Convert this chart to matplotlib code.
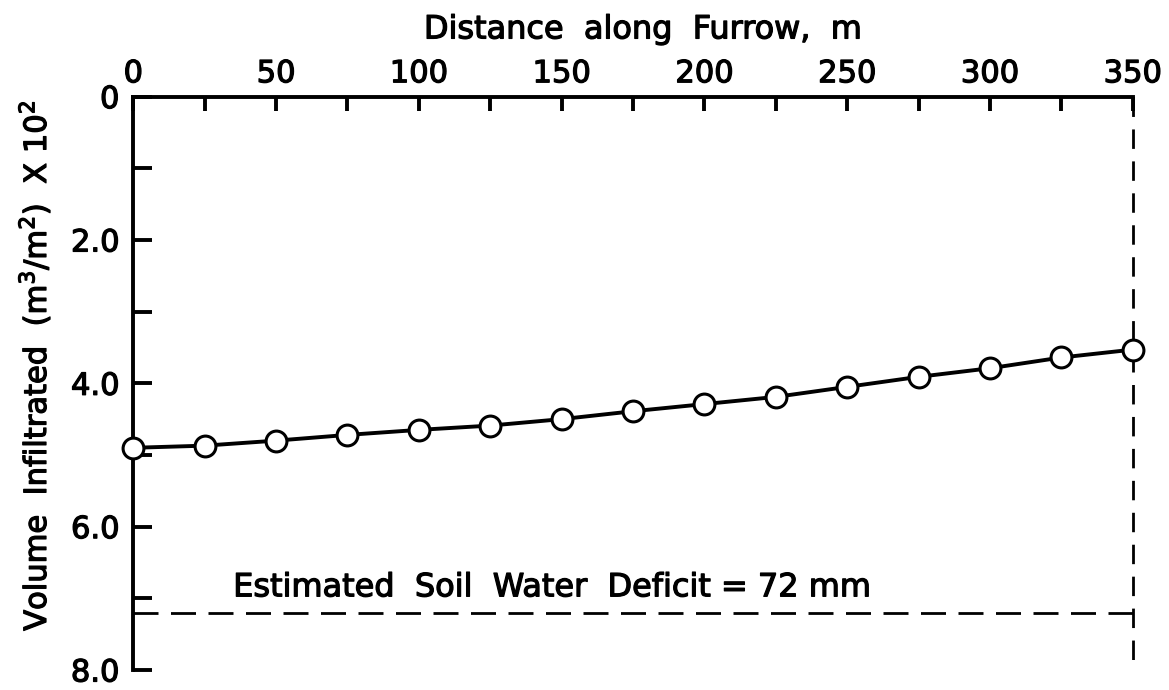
import matplotlib
matplotlib.use("Agg")
import matplotlib.pyplot as plt
import matplotlib.patheffects as pe
from matplotlib.ticker import MultipleLocator

plt.rcParams["font.family"] = ["DejaVu Sans"]

# volume infiltrated along the furrow (x10^-2 m3/m2)
distance = [0, 25, 50, 75, 100, 125, 150, 175, 200, 225, 250, 275, 300, 325, 350]
volume = [4.90, 4.87, 4.80, 4.72, 4.65, 4.59, 4.50, 4.39, 4.29, 4.19, 4.05, 3.91, 3.79, 3.64, 3.53]
deficit = 7.2
furrow_end = 350

x_labels = [0, 50, 100, 150, 200, 250, 300, 350]
y_ticks = [0, 2.0, 4.0, 6.0, 8.0]
y_labels = ["0", "2.0", "4.0", "6.0", "8.0"]

# slightly heavier lettering
heavy = [pe.withStroke(linewidth=0.9, foreground="black")]

fig = plt.figure(figsize=(11.69, 6.90), dpi=100)
ax = fig.add_axes([0.114, 0.029, 0.855, 0.831])

ax.plot(distance, volume, color="black", lw=2.8, marker="o", ms=15,
        mfc="white", mec="black", mew=2.2, zorder=3, clip_on=False)

ax.plot([0, furrow_end], [deficit, deficit], color="black", lw=2.0,
        dashes=(9, 4.5), clip_on=False)
ax.plot([furrow_end, furrow_end], [0, 8.0], color="black", lw=2.0,
        dashes=(7, 4.5), clip_on=False, zorder=1)
ax.text(35, deficit - 0.13, "Estimated  Soil  Water  Deficit = 72 mm",
        fontsize=23, ha="left", va="bottom", path_effects=heavy)

ax.set_xlim(0, 350)
ax.set_ylim(8.0, 0)
ax.xaxis.set_ticks_position("top")
ax.xaxis.set_label_position("top")
ax.set_xticks(x_labels)
ax.xaxis.set_minor_locator(MultipleLocator(25))
ax.set_yticks(y_ticks)
ax.set_yticklabels(y_labels)
ax.yaxis.set_minor_locator(MultipleLocator(1.0))

for side in ("right", "bottom"):
    ax.spines[side].set_visible(False)
for side in ("left", "top"):
    ax.spines[side].set_linewidth(2.8)

ax.tick_params(axis="x", which="both", direction="in", length=10, width=2.8,
               labelsize=22, pad=6)
ax.tick_params(axis="y", which="both", direction="in", length=14, width=2.8,
               labelsize=22, pad=10)

ax.set_xlabel("Distance  along  Furrow,  m", fontsize=23, labelpad=15,
              path_effects=heavy)
ax.set_ylabel("Volume  Infiltrated  (m$^3$/m$^2$)  X 10$^2$", fontsize=22,
              labelpad=13, path_effects=heavy)
ax.xaxis.label.set_x(0.51)
ax.yaxis.label.set_y(0.53)
for lbl in ax.get_xticklabels() + ax.get_yticklabels():
    lbl.set_path_effects(heavy)

fig.savefig("out.png", dpi=100)
